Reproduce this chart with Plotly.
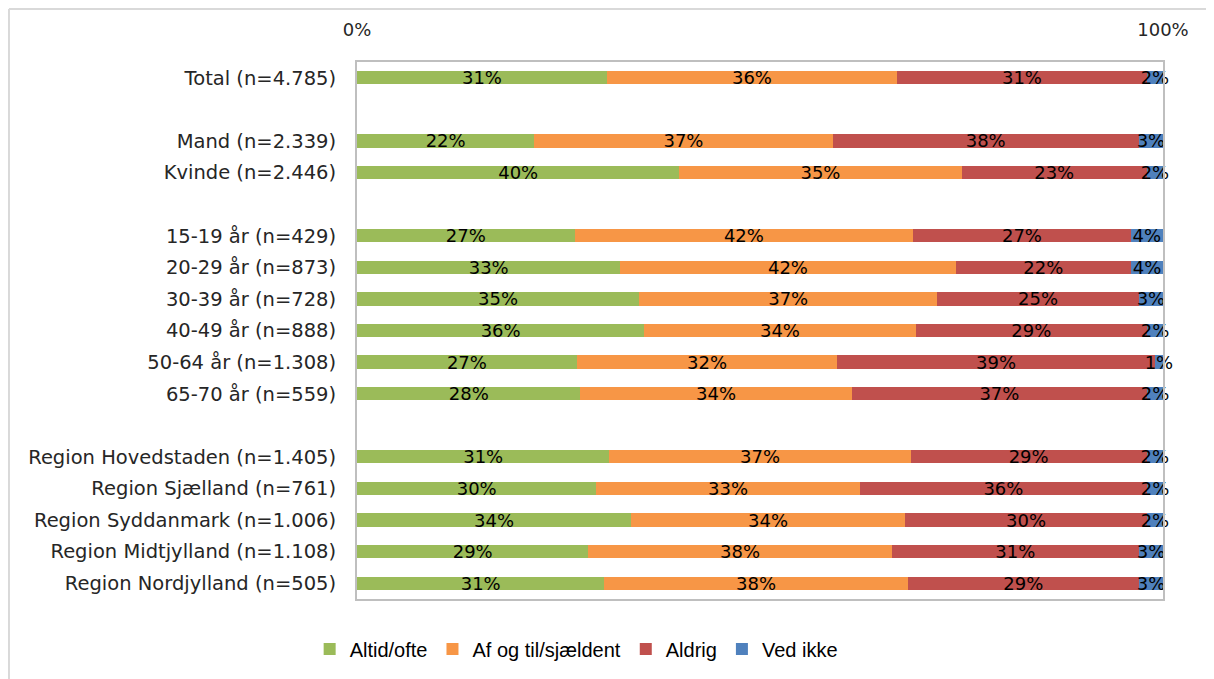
import plotly.graph_objects as go

categories = [
    "Total (n=4.785)", " ",
    "Mand (n=2.339)", "Kvinde (n=2.446)", "  ",
    "15-19 år (n=429)", "20-29 år (n=873)", "30-39 år (n=728)",
    "40-49 år (n=888)", "50-64 år (n=1.308)", "65-70 år (n=559)", "   ",
    "Region Hovedstaden (n=1.405)", "Region Sjælland (n=761)",
    "Region Syddanmark (n=1.006)", "Region Midtjylland (n=1.108)",
    "Region Nordjylland (n=505)",
]

altid = [31, None, 22, 40, None, 27, 33, 35, 36, 27, 28, None, 31, 30, 34, 29, 31]
af_og_til = [36, None, 37, 35, None, 42, 42, 37, 34, 32, 34, None, 37, 33, 34, 38, 38]
aldrig = [31, None, 38, 23, None, 27, 22, 25, 29, 39, 37, None, 29, 36, 30, 31, 29]
ved_ikke = [2, None, 3, 2, None, 4, 4, 3, 2, 1, 2, None, 2, 2, 2, 3, 3]

series = [
    ("Altid/ofte", altid, "#9BBB59"),
    ("Af og til/sjældent", af_og_til, "#F79646"),
    ("Aldrig", aldrig, "#C0504D"),
    ("Ved ikke", ved_ikke, "#4F81BD"),
]

font_main = "DejaVu Sans, Verdana, sans-serif"

fig = go.Figure()
for name, vals, color in series:
    fig.add_trace(go.Bar(
        y=categories, x=vals, name=name, orientation="h",
        marker=dict(color=color, line=dict(width=0)),
        text=[f"{v}%" if v is not None else "" for v in vals],
        textposition="inside", insidetextanchor="middle", textangle=0,
        insidetextfont=dict(color="#000000", size=18, family=font_main),
        constraintext="none", cliponaxis=False,
        hoverinfo="skip",
    ))

fig.update_layout(
    barmode="stack", barnorm="percent", bargap=0.58,
    width=1214, height=679,
    margin=dict(l=349, r=59, t=54, b=88),
    paper_bgcolor="white", plot_bgcolor="white",
    font=dict(family=font_main, color="#262626", size=18),
    uniformtext=dict(minsize=18, mode="show"),
    showlegend=True,
    legend=dict(
        orientation="h", xref="container", yref="container",
        x=0.468, y=0.056, xanchor="center", yanchor="middle",
        font=dict(size=20, family="Liberation Sans, Arial, sans-serif", color="#000000"),
        traceorder="normal", itemwidth=30,
    ),
    xaxis=dict(
        side="top", range=[0, 100], tickvals=[0, 100], ticktext=["0%", "100%"],
        showgrid=False, zeroline=False, showline=True, mirror=True,
        linecolor="#BFBFBF", linewidth=2, ticks="", ticklabelstandoff=17,
        tickfont=dict(size=18, color="#262626"), fixedrange=True,
    ),
    yaxis=dict(
        autorange="reversed", showgrid=False, showline=True, mirror=True,
        linecolor="#BFBFBF", linewidth=2, ticks="", ticklabelstandoff=15,
        tickfont=dict(size=19.5, color="#262626"),
    ),
    shapes=[
        dict(type="line", xref="paper", yref="paper", x0=-0.4318, x1=1.2, y0=1.0987, y1=1.0987,
             line=dict(color="#D9D9D9", width=2)),
        dict(type="line", xref="paper", yref="paper", x0=-0.4318, x1=-0.4318, y0=1.0987, y1=-0.3,
             line=dict(color="#D9D9D9", width=2)),
    ],
)

fig.write_html("out.html")
